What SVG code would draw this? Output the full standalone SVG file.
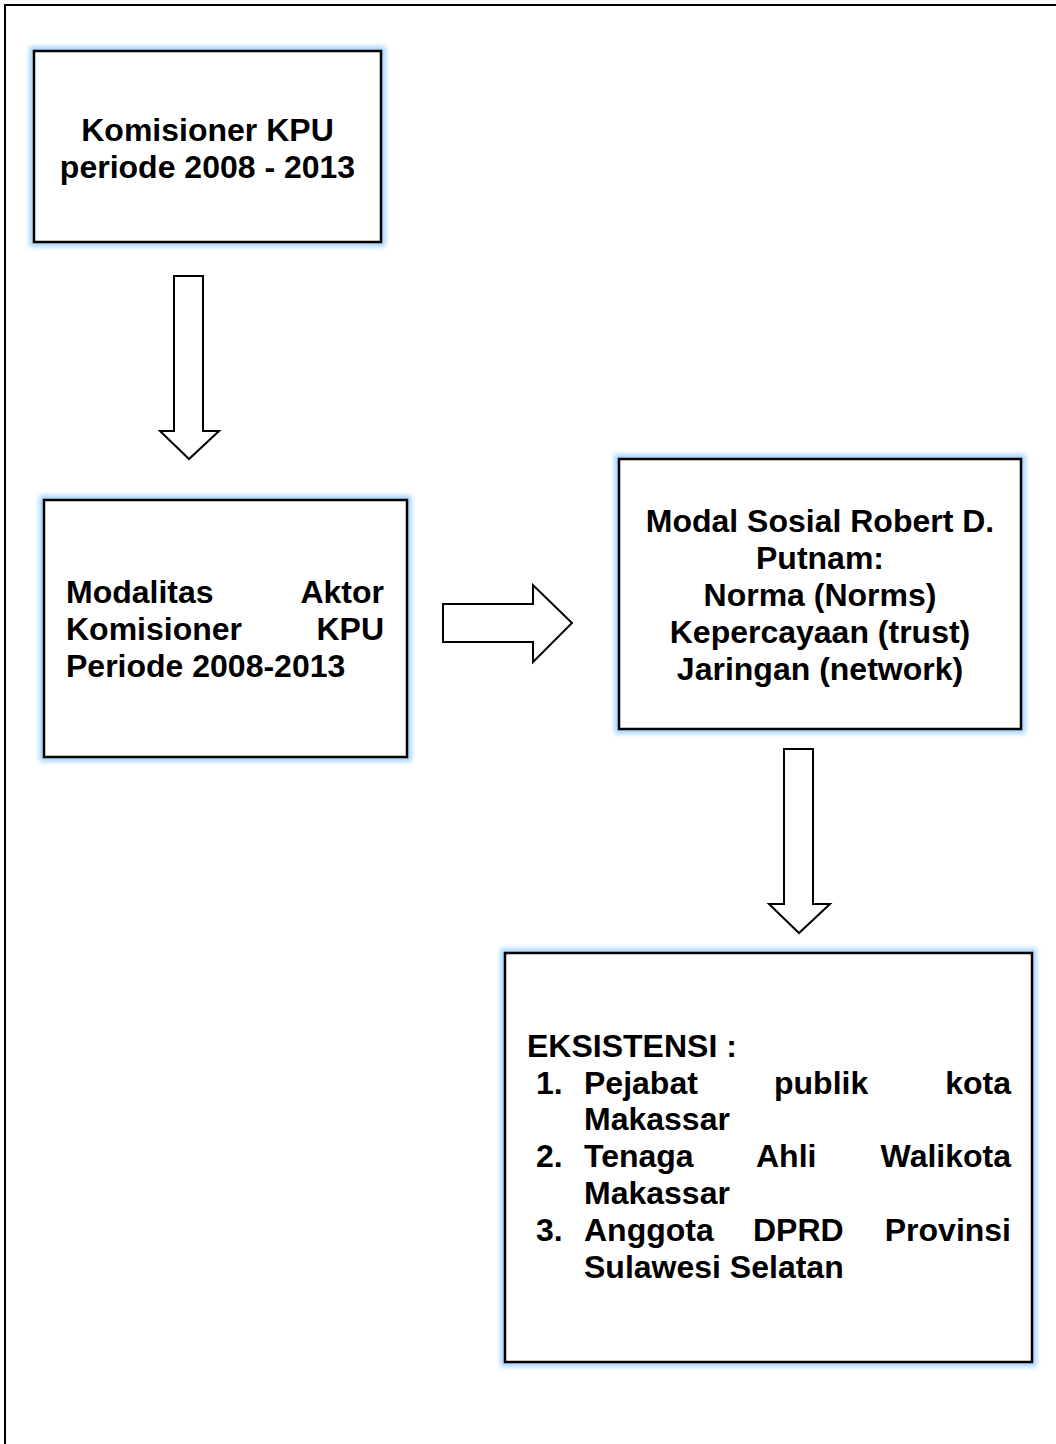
<svg xmlns="http://www.w3.org/2000/svg" width="1056" height="1444" viewBox="0 0 1056 1444">
<style>
.t{font-family:"Liberation Sans",Arial,sans-serif;font-weight:bold;font-size:32px;fill:#000}
.box{fill:#fff;stroke:#000;stroke-width:2.5}
.glow{fill:none;stroke:#9fd0ff;stroke-width:9;filter:url(#blur)}
.arr{fill:#fff;stroke:#000;stroke-width:2;stroke-linejoin:miter}
</style>
<defs>
<filter id="blur" x="-10%" y="-10%" width="120%" height="120%"><feGaussianBlur stdDeviation="2.5"/></filter>
</defs>
<rect width="1056" height="1444" fill="#fff"/>
<rect x="5" y="5" width="1100" height="1500" fill="none" stroke="#000" stroke-width="2"/>
<g id="connectors">
<polygon class="arr" points="174,276 203,276 203,431 219,431 189,459 160,431 174,431"/>
<polygon class="arr" points="443,604 533,604 533,585 572,623 533,662 533,642 443,642"/>
<polygon class="arr" points="784,749 813,749 813,904 830,904 799,933 769,904 784,904"/>
</g>
<g id="node1">
<rect class="glow" x="34" y="51" width="347" height="191"/>
<rect class="box" x="34" y="51" width="347" height="191"/>
<text class="t" x="207.5" y="141" text-anchor="middle">Komisioner KPU</text>
<text class="t" x="207.5" y="178" text-anchor="middle">periode 2008 - 2013</text>
</g>
<g id="node2">
<rect class="glow" x="44" y="500" width="363" height="257"/>
<rect class="box" x="44" y="500" width="363" height="257"/>
<text class="t" x="66" y="603">Modalitas</text>
<text class="t" x="384" y="603" text-anchor="end">Aktor</text>
<text class="t" x="66" y="640">Komisioner</text>
<text class="t" x="384" y="640" text-anchor="end">KPU</text>
<text class="t" x="66" y="677">Periode 2008-2013</text>
</g>
<g id="node3">
<rect class="glow" x="619" y="459" width="402" height="270"/>
<rect class="box" x="619" y="459" width="402" height="270"/>
<text class="t" x="820" y="532" text-anchor="middle">Modal Sosial Robert D.</text>
<text class="t" x="820" y="569" text-anchor="middle">Putnam:</text>
<text class="t" x="820" y="606" text-anchor="middle">Norma (Norms)</text>
<text class="t" x="820" y="643" text-anchor="middle">Kepercayaan (trust)</text>
<text class="t" x="820" y="680" text-anchor="middle">Jaringan (network)</text>
</g>
<g id="node4">
<rect class="glow" x="505" y="953" width="527" height="409"/>
<rect class="box" x="505" y="953" width="527" height="409"/>
<text class="t" x="527" y="1057">EKSISTENSI :</text>
<text class="t" x="536" y="1094">1.</text>
<text class="t" x="584" y="1094">Pejabat</text>
<text class="t" x="774" y="1094">publik</text>
<text class="t" x="1011" y="1094" text-anchor="end">kota</text>
<text class="t" x="584" y="1130">Makassar</text>
<text class="t" x="536" y="1167">2.</text>
<text class="t" x="584" y="1167">Tenaga</text>
<text class="t" x="756" y="1167">Ahli</text>
<text class="t" x="1011" y="1167" text-anchor="end">Walikota</text>
<text class="t" x="584" y="1204">Makassar</text>
<text class="t" x="536" y="1241">3.</text>
<text class="t" x="584" y="1241">Anggota</text>
<text class="t" x="753" y="1241">DPRD</text>
<text class="t" x="1011" y="1241" text-anchor="end">Provinsi</text>
<text class="t" x="584" y="1278">Sulawesi Selatan</text>
</g>
</svg>
